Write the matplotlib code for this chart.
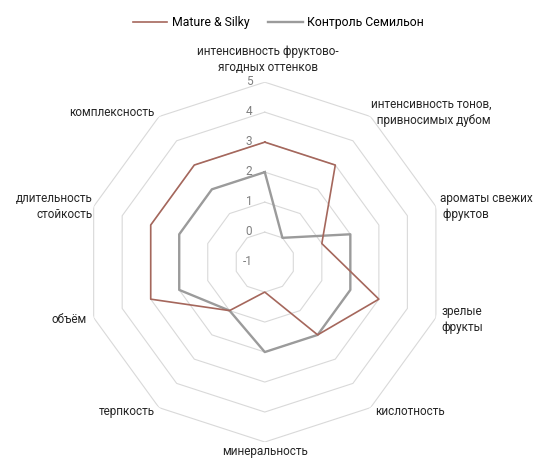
import numpy as np
import matplotlib
matplotlib.use("Agg")
import matplotlib.pyplot as plt
from matplotlib.lines import Line2D

categories = [
    "интенсивность фруктово-\nягодных оттенков",
    "интенсивность тонов,\n  привносимых дубом",
    "ароматы свежих\n фруктов",
    "зрелые\nфрукты",
    "кислотность",
    "минеральность",
    "терпкость",
    "объём",
    "длительность\nстойкость",
    "комплексность",
]
mature_silky = [3, 3, 1, 3, 2, 0, 1, 3, 3, 3]
control = [2, 0, 2, 2, 2, 2, 1, 2, 2, 2]
ticks = [-1, 0, 1, 2, 3, 4, 5]
series_names = ["Mature & Silky", "Контроль Семильон"]

BROWN = "#A5675C"
GRAY = "#9B9B9B"
GRID = "#D9D9D9"
TEXT = "#262626"

plt.rcParams["font.family"] = ["Roboto", "DejaVu Sans"]

fig = plt.figure(figsize=(5.36, 4.59), dpi=100)
ax = fig.add_axes([0.158, 0.037, 0.672, 0.784], projection="polar")
ax.set_theta_zero_location("N")
ax.set_theta_direction(-1)
ax.set_ylim(ticks[0], ticks[-1])

n = len(categories)
theta = np.arange(n) * 2 * np.pi / n
theta_closed = np.append(theta, theta[0])

# decagon grid
for t in ticks[1:]:
    ax.plot(theta_closed, [t] * (n + 1), color=GRID, lw=0.8, zorder=1)

ax.grid(False)
ax.spines["polar"].set_visible(False)
ax.set_xticks([])
ax.set_yticks([])

ax.plot(theta_closed, mature_silky + mature_silky[:1], color=BROWN, lw=1.2, zorder=3)
ax.plot(theta_closed, control + control[:1], color=GRAY, lw=1.7, zorder=2)

# radial value labels along top spoke
for t in ticks:
    ax.annotate(str(t), (0, t), textcoords="offset points", xytext=(-9, 0.5),
                ha="right", va="center", fontsize=8.5, color="#7F7F7F")

# category labels
label_style = [
    ((2, 6), "center", "bottom", "center"),
    ((0, 3), "left", "center", "left"),
    ((3, 0), "left", "center", "left"),
    ((4, -1), "left", "center", "left"),
    ((3, -3), "left", "center", "left"),
    ((0, -2), "center", "top", "center"),
    ((-3, -3), "right", "center", "right"),
    ((-5, -1), "right", "center", "right"),
    ((-1, 0), "right", "center", "right"),
    ((-3, 3), "right", "center", "right"),
]
for th, lab, (off, ha, va, ma) in zip(theta, categories, label_style):
    ax.annotate(lab, (th, ticks[-1]), textcoords="offset points", xytext=off,
                ha=ha, va=va, multialignment=ma, fontsize=8.5, color=TEXT,
                linespacing=1.3, annotation_clip=False)

handles = [Line2D([], [], color=BROWN, lw=1.2), Line2D([], [], color=GRAY, lw=1.7)]
fig.legend(handles, series_names, loc="center", bbox_to_anchor=(0.52, 0.95),
           ncol=2, frameon=False, fontsize=8.8, handlelength=2.8,
           columnspacing=1.5, handletextpad=0.4)

fig.savefig("out.png", dpi=100)
